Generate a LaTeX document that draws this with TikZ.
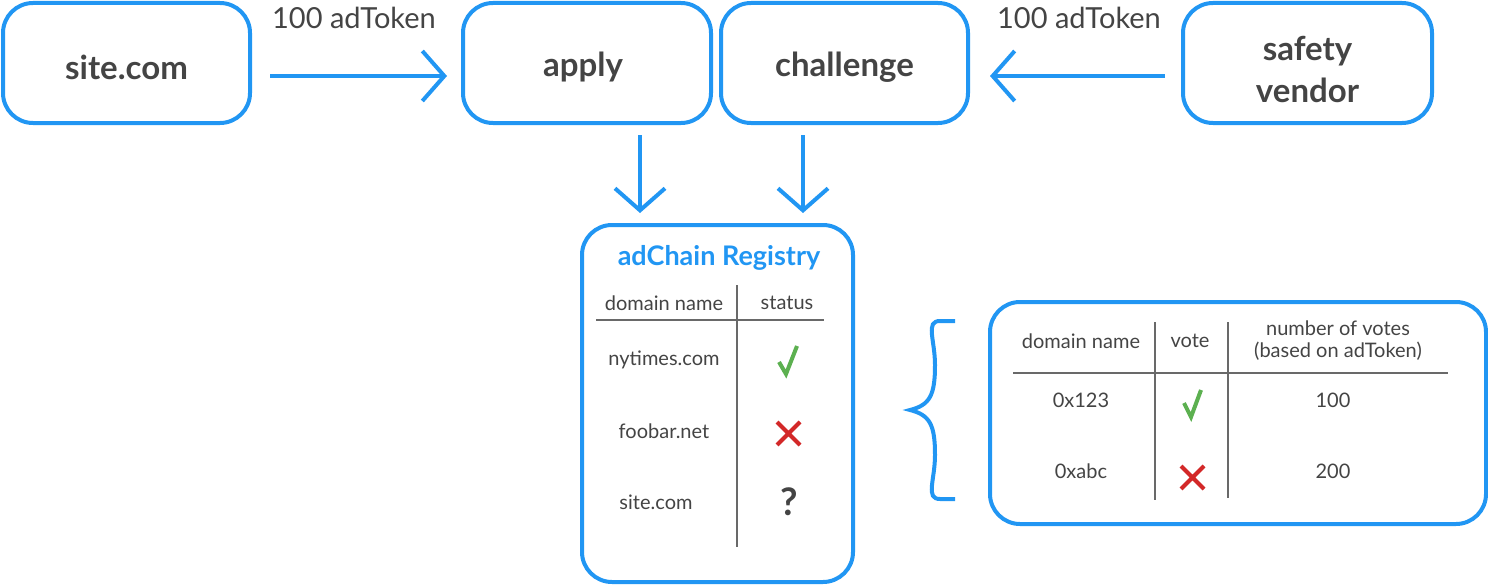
\documentclass[tikz,border=0pt]{standalone}
\usepackage{fontspec}
\setmainfont{Lato}
\usetikzlibrary{arrows.meta}
\definecolor{bl}{RGB}{33,150,243}
\definecolor{tx}{RGB}{68,68,68}
\definecolor{gr}{RGB}{92,176,80}
\definecolor{rd}{RGB}{211,40,40}
\tikzset{
  box/.style={draw=bl, line width=4pt, rounded corners=30pt},
  flow/.style={draw=bl, line width=4pt, -{Straight Barb[length=22pt,width=50pt]}},
  lbl/.style={text=tx, font=\fontsize{33}{42}\selectfont\bfseries, align=center},
  tok/.style={text=tx, font=\fontsize{29}{32}\selectfont},
  cell/.style={text=tx, font=\fontsize{20}{24}\selectfont, align=center},
  rule/.style={draw=tx!80, line width=1.2pt},
  chk/.style={draw=gr, line width=4pt},
  crs/.style={draw=rd, line width=4pt},
}
\begin{document}
\begin{tikzpicture}[x=1pt,y=-1pt]
\useasboundingbox (0,0) rectangle (1488,586);
% top boxes
\draw[box] (3,3) rectangle (250,123);
\node[lbl] (site) at (126.5,67) {site.com};
\draw[box] (463,3) rectangle (711,123);
\node[lbl] (apply) at (583,67) {apply};
\draw[box] (721,3) rectangle (968,123);
\node[lbl] (chal) at (844.5,67) {challenge};
\draw[box] (1183,3) rectangle (1432,123);
\node[lbl] (vend) at (1307.5,69) {safety\\vendor};
% coordinates for connectors
\coordinate (a1) at (270,76); \coordinate (a2) at (447,76);
\coordinate (b1) at (1165,76); \coordinate (b2) at (990,76);
\coordinate (c1) at (640,135); \coordinate (c2) at (640,213);
\coordinate (d1) at (803,135); \coordinate (d2) at (803,213);
\draw[flow] (a1) -- (a2);
\draw[flow] (b1) -- (b2);
\draw[flow] (c1) -- (c2);
\draw[flow] (d1) -- (d2);
\node[tok] (t1) at (354,18) {100 adToken};
\node[tok] (t2) at (1079,18) {100 adToken};
% registry
\draw[box] (582,225) rectangle (853,582);
\node[text=bl, font=\fontsize{27}{30}\selectfont\bfseries] (title) at (719,258) {adChain Registry};
\node[cell] (h1) at (664,303) {domain name};
\node[cell] (h2) at (787,303) {status};
\draw[rule] (596,320) -- (824,320);
\draw[rule] (737,285) -- (737,547);
\node[cell] (r1) at (664,360) {nytimes.com};
\node[cell] (r2) at (664,431) {foobar.net};
\node[cell] (r3) at (656,502) {site.com};
\draw[chk] (779,362) -- (786,374) -- (797,346);
\draw[crs] (777,422) -- (800,445) (800,422) -- (777,445);
\node[text=tx, font=\fontsize{38}{40}\selectfont\bfseries] (q) at (789,502) {?};
% brace
\draw[bl, line width=4pt] (955,321) -- (940,321) .. controls (925,321) and (935,340) .. (935,365)
  .. controls (935,395) and (930,405) .. (910,410)
  .. controls (930,415) and (935,425) .. (935,455)
  .. controls (935,480) and (925,499) .. (940,499) -- (955,499);
% votes
\draw[box] (990,302) rectangle (1486,524);
\node[cell] (v1) at (1081,341) {domain name};
\node[cell] (v2) at (1190,341) {vote};
\node[cell] (v3) at (1338,341) {number of votes\\[-2pt](based on adToken)};
\draw[rule] (1013,373) -- (1448,373);
\draw[rule] (1155,322) -- (1155,500);
\draw[rule] (1228,322) -- (1228,498);
\node[cell] (w1) at (1081,400) {0x123};
\node[cell] (w2) at (1333,400) {100};
\node[cell] (w3) at (1081,471) {0xabc};
\node[cell] (w4) at (1333,471) {200};
\draw[chk] (1184,403) -- (1191,417) -- (1201,390);
\draw[crs] (1181,466) -- (1204,489) (1204,466) -- (1181,489);
\end{tikzpicture}
\end{document}
